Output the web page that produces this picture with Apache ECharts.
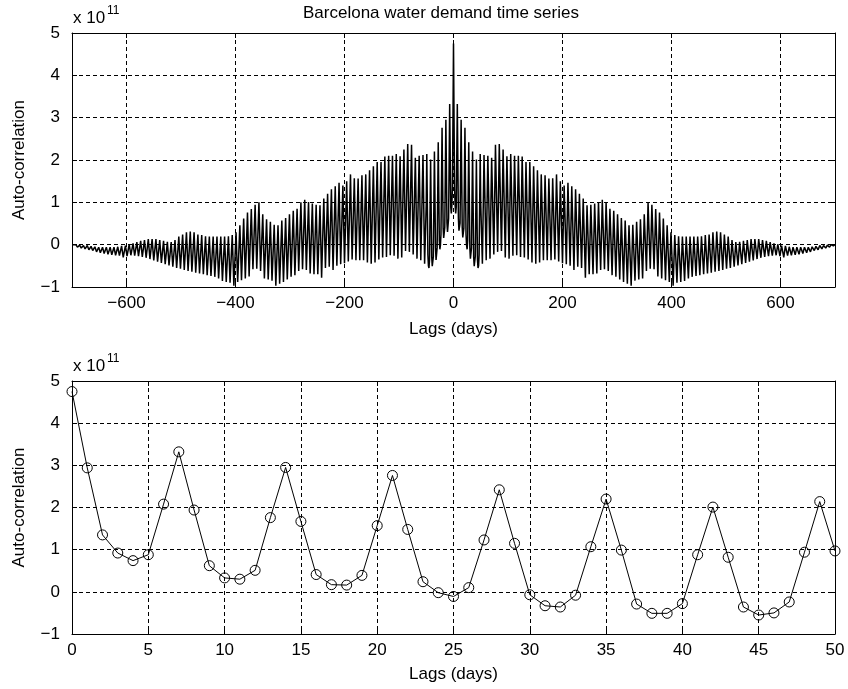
<!DOCTYPE html>
<html><head><meta charset="utf-8">
<script src="https://cdn.jsdelivr.net/npm/echarts@6/dist/echarts.min.js"></script>
<style>html,body{margin:0;padding:0;background:#fff}#c{width:848px;height:689px}</style>
</head><body><div id="c"></div>
<script>
// ---- data (values in units of 10^11) ----
// Auto-correlation at lags 0..50 days (bottom panel)
const acfNear = [4.75, 2.94, 1.35, 0.92, 0.74, 0.88, 2.08, 3.32, 1.94, 0.62,
  0.33, 0.30, 0.51, 1.76, 2.95, 1.67, 0.41, 0.17, 0.16, 0.39,
  1.57, 2.76, 1.48, 0.24, -0.02, -0.11, 0.10, 1.23, 2.42, 1.15,
  -0.07, -0.33, -0.36, -0.08, 1.07, 2.20, 0.99, -0.29, -0.51, -0.51,
  -0.28, 0.88, 2.01, 0.82, -0.36, -0.55, -0.50, -0.24, 0.94, 2.14, 0.97];
// Weekly peak values (lags 56, 63, ..., 693)
const weeklyPeak = [2.12, 2.10, 2.05, 2.36, 2.38, 2.25, 2.09, 2.14, 2.10, 2.10,
  2.08, 1.95, 1.95, 1.85, 1.76, 1.66, 1.64, 1.56, 1.57, 1.66,
  1.50, 1.40, 1.46, 1.38, 1.31, 1.20, 1.09, 0.93, 0.94, 0.97,
  1.01, 1.06, 1.00, 0.85, 0.80, 0.72, 0.63, 0.57, 0.46, 0.47,
  0.54, 0.60, 0.72, 1.00, 0.94, 0.84, 0.76, 0.62, 0.46, 0.29,
  0.23, 0.20, 0.19, 0.19, 0.19, 0.19, 0.19, 0.20, 0.23, 0.24,
  0.29, 0.31, 0.29, 0.24, 0.19, 0.11, 0.06, 0.07, 0.09, 0.11,
  0.13, 0.13, 0.13, 0.11, 0.09, 0.06, 0.03, 0.01, -0.02, -0.03,
  -0.05, -0.06, -0.06, -0.06, -0.06, -0.06, -0.05, -0.04, -0.02, -0.02,
  -0.01, 0.00];
// Weekly trough values (lags 53, 60, ..., 697)
const weeklyTrough = [-0.45, -0.37, -0.33, -0.23, -0.17, -0.15, -0.30, -0.33, -0.26, -0.25,
  -0.29, -0.30, -0.35, -0.42, -0.45, -0.42, -0.37, -0.37, -0.37, -0.35,
  -0.40, -0.44, -0.46, -0.50, -0.60, -0.52, -0.55, -0.78, -0.70, -0.70,
  -0.68, -0.60, -0.58, -0.62, -0.72, -0.76, -0.82, -0.88, -0.92, -0.97,
  -0.85, -0.82, -0.80, -0.62, -0.57, -0.58, -0.75, -0.80, -0.84, -0.88,
  -0.97, -0.90, -0.88, -0.86, -0.80, -0.76, -0.74, -0.72, -0.70, -0.68,
  -0.66, -0.64, -0.62, -0.60, -0.57, -0.55, -0.52, -0.49, -0.46, -0.43,
  -0.40, -0.37, -0.34, -0.31, -0.29, -0.27, -0.26, -0.25, -0.27, -0.30,
  -0.26, -0.25, -0.24, -0.23, -0.21, -0.19, -0.17, -0.14, -0.12, -0.10,
  -0.08, -0.06, -0.03];
const maxLagValue = 0.00; // value at lag +/-700
const topXTicks = [-600, -400, -200, 0, 200, 400, 600];
const bottomXTicks = [0, 5, 10, 15, 20, 25, 30, 35, 40, 45, 50];
const yTicks = [-1, 0, 1, 2, 3, 4, 5];

// ---- build series ----
const pos = acfNear.map((v, i) => [i, v]);
for (let k = 7; k <= 99; k++) {
  pos.push([7 * k + 4, weeklyTrough[k - 7]]);
  if (k + 1 <= 99) pos.push([7 * (k + 1), weeklyPeak[k + 1 - 8]]);
}
pos.push([700, maxLagValue]);
const neg = pos.slice(1).map(p => [-p[0], p[1]]).reverse();
const topData = neg.concat(pos);
const bottomData = acfNear.map((v, i) => [i, v]);

// ---- chart ----
const FONT = 'Liberation Sans';
const FS = 17;
const dash = [4, 3];
const minus = v => String(v).replace('-', '\u2212');
const txt = { color: '#000', fontFamily: FONT, fontSize: FS };

function mainX(grid, min, max, ticks, gap) {
  return {
    gridIndex: grid, type: 'value', min: min, max: max, position: 'bottom',
    interval: ticks[1] - ticks[0],
    axisLine: { show: true, onZero: false, lineStyle: { color: '#000', width: 1 } },
    axisTick: { show: true, inside: true, length: 5, customValues: ticks, lineStyle: { color: '#000' } },
    axisLabel: Object.assign({ customValues: ticks, formatter: minus, margin: 8 }, txt),
    splitLine: { show: true, customValues: ticks, lineStyle: { color: '#000', type: dash, width: 1 } },
    name: 'Lags (days)', nameLocation: 'middle', nameGap: gap, nameTextStyle: txt
  };
}
function topX(grid, min, max, ticks) {
  return {
    gridIndex: grid, type: 'value', min: min, max: max, position: 'top',
    axisLine: { show: true, onZero: false, lineStyle: { color: '#000', width: 1 } },
    axisTick: { show: true, inside: true, length: 5, customValues: ticks, lineStyle: { color: '#000' } },
    axisLabel: { show: false }, splitLine: { show: false }
  };
}
function leftY(grid) {
  return {
    gridIndex: grid, type: 'value', min: -1, max: 5, interval: 1, position: 'left',
    axisLine: { show: true, onZero: false, lineStyle: { color: '#000', width: 1 } },
    axisTick: { show: true, inside: true, length: 5, lineStyle: { color: '#000' } },
    axisLabel: Object.assign({ formatter: minus, margin: 12 }, txt),
    splitLine: { show: true, lineStyle: { color: '#000', type: dash, width: 1 } },
    name: 'Auto-correlation', nameLocation: 'middle', nameGap: 44, nameTextStyle: txt
  };
}
function rightY(grid) {
  return {
    gridIndex: grid, type: 'value', min: -1, max: 5, interval: 1, position: 'right',
    axisLine: { show: true, onZero: false, lineStyle: { color: '#000', width: 1 } },
    axisTick: { show: true, inside: true, length: 5, lineStyle: { color: '#000' } },
    axisLabel: { show: false }, splitLine: { show: false }
  };
}

const chart = echarts.init(document.getElementById('c'), null, { renderer: 'canvas' });
chart.setOption({
  animation: false,
  backgroundColor: '#fff',
  grid: [
    { left: 72, right: 13, top: 33, height: 254 },
    { left: 72, right: 13, top: 381, height: 253 }
  ],
  xAxis: [mainX(0, -700, 700, topXTicks, 34), topX(0, -700, 700, topXTicks),
          mainX(1, 0, 50, bottomXTicks, 32), topX(1, 0, 50, bottomXTicks)],
  yAxis: [leftY(0), rightY(0), leftY(1), rightY(1)],
  graphic: [
    { type: 'text', left: 453 - 150, top: 5, style: { text: 'Barcelona water demand time series', width: 300, align: 'center', fill: '#000', font: FS + 'px ' + FONT } },
    { type: 'text', left: 73, top: 10, style: { text: 'x 10', fill: '#000', font: FS + 'px ' + FONT } },
    { type: 'text', left: 107, top: 5, style: { text: '11', fill: '#000', font: '12px ' + FONT } },
    { type: 'text', left: 73, top: 358, style: { text: 'x 10', fill: '#000', font: FS + 'px ' + FONT } },
    { type: 'text', left: 107, top: 353, style: { text: '11', fill: '#000', font: '12px ' + FONT } }
  ],
  series: [
    { type: 'line', xAxisIndex: 0, yAxisIndex: 0, data: topData, showSymbol: false, symbol: 'none',
      sampling: null, lineStyle: { color: '#000', width: 1.5 }, silent: true },
    { type: 'line', xAxisIndex: 2, yAxisIndex: 2, data: bottomData, symbol: 'circle', symbolSize: 10,
      itemStyle: { color: 'rgba(0,0,0,0)', borderColor: '#000', borderWidth: 1 },
      lineStyle: { color: '#000', width: 1 }, silent: true }
  ]
});
</script></body></html>
